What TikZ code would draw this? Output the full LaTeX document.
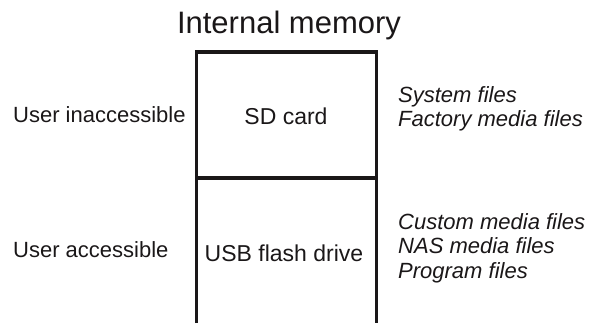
\documentclass[tikz,border=0pt]{standalone}
\usepackage{fontspec}
\setmainfont{Liberation Sans}
\usetikzlibrary{positioning,calc}
\definecolor{ink}{HTML}{1A1718}
\tikzset{lbl/.style={inner sep=0pt,text=ink,font=\fontsize{22bp}{25bp}\selectfont},cell/.style={lbl,font=\fontsize{23bp}{26bp}\selectfont,anchor=base},files/.style={lbl,font=\fontsize{22bp}{24.5bp}\selectfont\itshape,align=left,anchor=base west},wall/.style={draw=ink,line width=3.2bp}}

\begin{document}
\begin{tikzpicture}[x=1bp,y=-1bp]
\useasboundingbox (0,0) rectangle (592,323);
\coordinate (bl) at (196.5,323);\coordinate (tl) at (196.5,52);\coordinate (tr) at (376.5,52);\coordinate (br) at (376.5,323);
\coordinate (ml) at (196.5,178);\coordinate (mr) at (376.5,178);
\draw[wall](bl)--(tl)--(tr)--(br);\draw[wall](ml)--(mr);
\node[lbl,font=\fontsize{31bp}{34bp}\selectfont,anchor=base](title)at(289,33){Internal memory};
\node[cell](sd)at(286,124.5){SD card};\node[cell](usb)at(284,261){USB flash drive};
\node[lbl,anchor=base west](inacc)at(13,122){User inaccessible};\node[lbl,anchor=base west](acc)at(13,257){User accessible};
% base anchor sits on the last line
\node[files](sys)at(398,126.5){System files\\Factory media files};
\node[files](cust)at(398,278){Custom media files\\NAS media files\\Program files};
\end{tikzpicture}
\end{document}
